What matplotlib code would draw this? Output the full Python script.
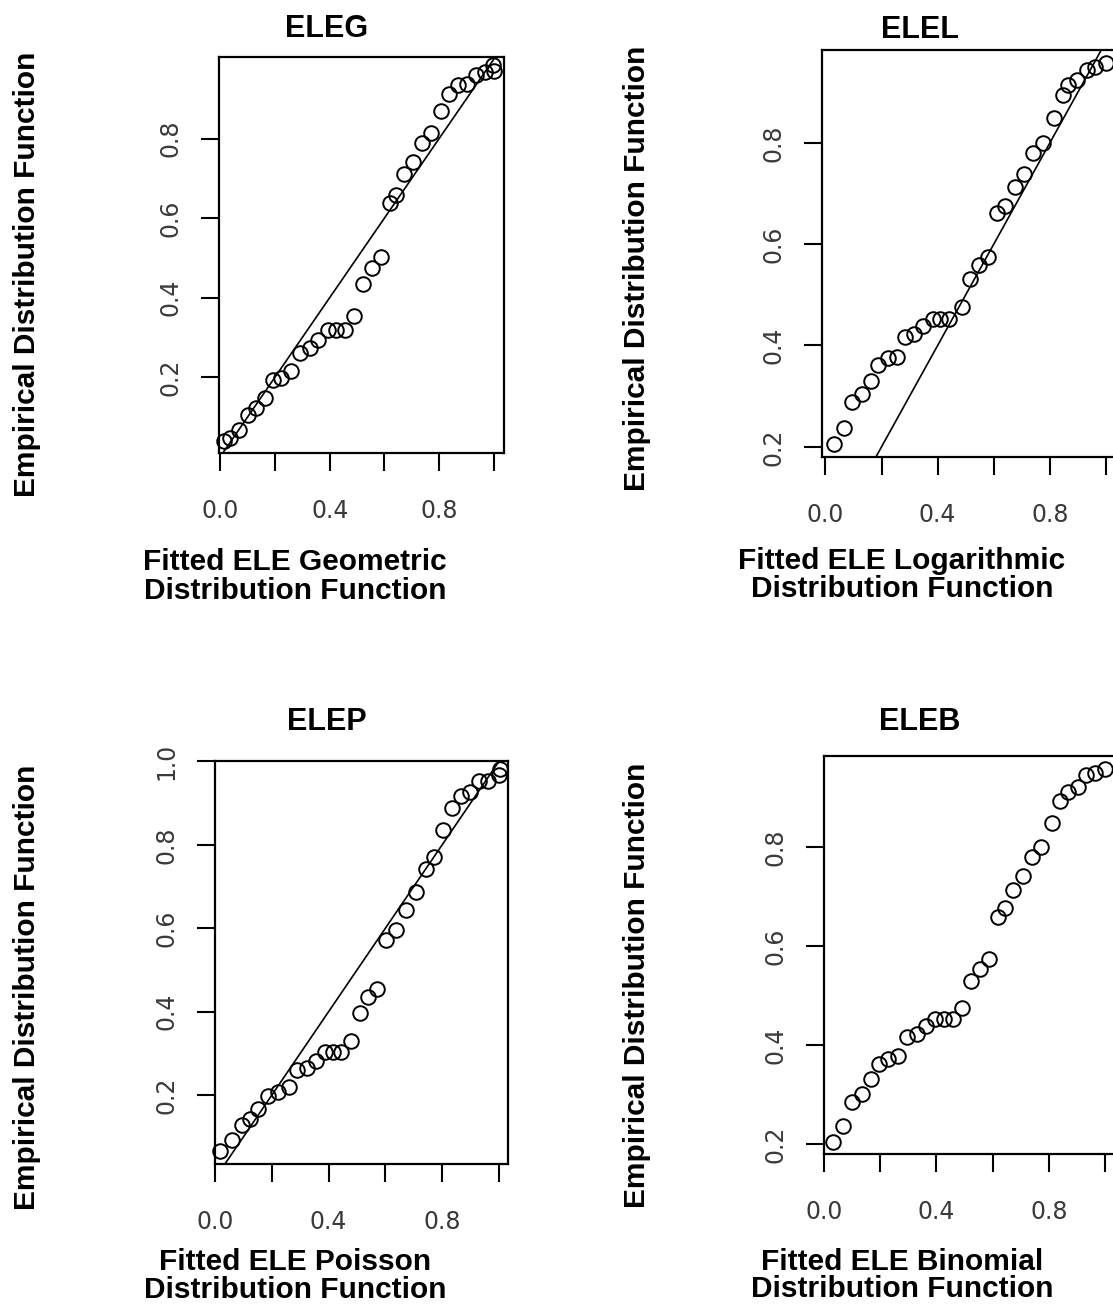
import matplotlib
matplotlib.use("Agg")
import matplotlib.pyplot as plt

W, H = 1113, 1305

# ---------------- data ----------------
eleg_x = [0.012, 0.034, 0.068, 0.101, 0.132, 0.162, 0.193, 0.223, 0.260, 0.290, 0.327,
          0.357, 0.394, 0.424, 0.455, 0.488, 0.520, 0.556, 0.589, 0.620, 0.641, 0.671,
          0.705, 0.739, 0.770, 0.805, 0.837, 0.870, 0.900, 0.934, 0.967, 1.000, 0.995]
eleg_y = [0.039, 0.047, 0.066, 0.105, 0.122, 0.147, 0.193, 0.197, 0.214, 0.260, 0.273,
          0.294, 0.319, 0.319, 0.319, 0.354, 0.433, 0.475, 0.503, 0.637, 0.658, 0.710,
          0.741, 0.789, 0.813, 0.869, 0.913, 0.934, 0.938, 0.959, 0.967, 0.970, 0.985]

elel_x = [0.032, 0.065, 0.095, 0.130, 0.162, 0.186, 0.222, 0.255, 0.285, 0.317, 0.348,
          0.383, 0.409, 0.439, 0.486, 0.516, 0.546, 0.578, 0.611, 0.641, 0.676, 0.708,
          0.741, 0.777, 0.813, 0.848, 0.866, 0.896, 0.931, 0.961, 1.000]
elel_y = [0.205, 0.238, 0.289, 0.304, 0.330, 0.361, 0.376, 0.378, 0.417, 0.422, 0.438,
          0.453, 0.453, 0.453, 0.475, 0.532, 0.559, 0.574, 0.662, 0.675, 0.713, 0.739,
          0.779, 0.799, 0.848, 0.894, 0.914, 0.924, 0.943, 0.950, 0.958]

elep_x = [0.018, 0.059, 0.094, 0.125, 0.152, 0.188, 0.223, 0.261, 0.290, 0.325, 0.355,
          0.387, 0.416, 0.445, 0.480, 0.510, 0.539, 0.571, 0.604, 0.637, 0.672, 0.707,
          0.742, 0.770, 0.803, 0.836, 0.868, 0.897, 0.930, 0.961, 1.000, 1.005]
elep_y = [0.065, 0.093, 0.128, 0.144, 0.168, 0.198, 0.208, 0.220, 0.260, 0.264, 0.283,
          0.303, 0.303, 0.303, 0.331, 0.396, 0.436, 0.454, 0.571, 0.597, 0.645, 0.687,
          0.741, 0.772, 0.836, 0.889, 0.918, 0.927, 0.953, 0.953, 0.967, 0.983]

eleb_x = [0.033, 0.069, 0.098, 0.134, 0.166, 0.197, 0.229, 0.265, 0.297, 0.330, 0.363,
          0.395, 0.427, 0.458, 0.490, 0.522, 0.555, 0.588, 0.620, 0.644, 0.674, 0.707,
          0.739, 0.771, 0.810, 0.840, 0.870, 0.905, 0.932, 0.964, 1.000]
eleb_y = [0.205, 0.236, 0.286, 0.302, 0.331, 0.362, 0.373, 0.378, 0.417, 0.423, 0.439,
          0.454, 0.454, 0.454, 0.476, 0.530, 0.555, 0.574, 0.660, 0.677, 0.714, 0.742,
          0.781, 0.801, 0.849, 0.893, 0.913, 0.923, 0.946, 0.950, 0.958]

ref_x = [0.0, 1.0]
ref_y = [0.0, 1.0]

titles = ["ELEG", "ELEL", "ELEP", "ELEB"]
xlab1 = ["Fitted ELE Geometric", "Fitted ELE Logarithmic", "Fitted ELE Poisson", "Fitted ELE Binomial"]
xlab2 = "Distribution Function"
ylab = "Empirical Distribution Function"
xticks = [0.0, 0.2, 0.4, 0.6, 0.8, 1.0]
xticklabels = ["0.0", "", "0.4", "", "0.8", ""]

# ---------------- layout (pixels) ----------------
boxes = [  # left, top, right, bottom in pixels
    (219, 57, 504, 453),
    (822, 50, 1117, 457),
    (215, 761, 508, 1164),
    (824, 756, 1119, 1154),
]
xlims = [(-0.005, 1.037), (-0.012, 1.039), (0.0, 1.032), (0.0, 1.05)]
ylims = [(0.009, 1.005), (0.18, 0.983), (0.035, 1.001), (0.18, 0.985)]
yticks = [[0.2, 0.4, 0.6, 0.8], [0.2, 0.4, 0.6, 0.8],
          [0.2, 0.4, 0.6, 0.8, 1.0], [0.2, 0.4, 0.6, 0.8]]
series = [(eleg_x, eleg_y, True), (elel_x, elel_y, True),
          (elep_x, elep_y, True), (eleb_x, eleb_y, False)]
col_center = [327, 920, 327, 920]
title_base = [37, 38, 730, 730]
xlab_center = [295, 902, 295, 902]
xlab_base = [(570, 599), (569, 597), (1270, 1298), (1270, 1297)]
ylab_x = [41, 651, 41, 651]
ylab_cy = [274, 268, 987, 985]

TICKCOL = "#3a3a3a"
BOLD = dict(family=["Liberation Sans", "DejaVu Sans"], weight="bold", size=21.5, color="black")

fig = plt.figure(figsize=(W / 100, H / 100), dpi=100)
fig.patch.set_facecolor("white")

def fx(px):
    return px / W

def fy(py):
    return 1 - py / H

for i in range(4):
    l, t, r, b = boxes[i]
    ax = fig.add_axes([fx(l), fy(b), (r - l) / W, (b - t) / H])
    x, y, has_line = series[i]
    if has_line:
        ax.plot(ref_x, ref_y, color="black", lw=1.2, zorder=2)
    ax.plot(x, y, linestyle="none", marker="o", markersize=10.5,
            markerfacecolor="none", markeredgecolor="black", markeredgewidth=1.4,
            zorder=3, clip_on=False)
    ax.set_xlim(*xlims[i])
    ax.set_ylim(*ylims[i])
    ax.set_xticks(xticks)
    ax.set_xticklabels(xticklabels)
    ax.set_yticks(yticks[i])
    ax.set_yticklabels([f"{v:.1f}" for v in yticks[i]])
    for s in ax.spines.values():
        s.set_linewidth(1.6)
        s.set_color("black")
    ax.tick_params(axis="both", direction="out", length=13, width=1.5,
                   colors="black", labelcolor=TICKCOL, labelsize=17)
    ax.tick_params(axis="x", pad=20)
    ax.tick_params(axis="y", pad=13, labelrotation=90)
    for lab in ax.get_xticklabels() + ax.get_yticklabels():
        lab.set_family("DejaVu Sans")
    for lab in ax.get_yticklabels():
        lab.set_va("center")

    fig.text(fx(col_center[i]), fy(title_base[i]), titles[i], ha="center", va="baseline",
             fontdict=dict(BOLD, size=22))
    fig.text(fx(xlab_center[i]), fy(xlab_base[i][0]), xlab1[i], ha="center", va="baseline", fontdict=BOLD)
    fig.text(fx(xlab_center[i]), fy(xlab_base[i][1]), xlab2, ha="center", va="baseline", fontdict=BOLD)
    fig.text(fx(ylab_x[i]), fy(ylab_cy[i]), ylab, rotation=90, ha="right", va="center", fontdict=BOLD)

fig.savefig("out.png", dpi=100, facecolor="white")
